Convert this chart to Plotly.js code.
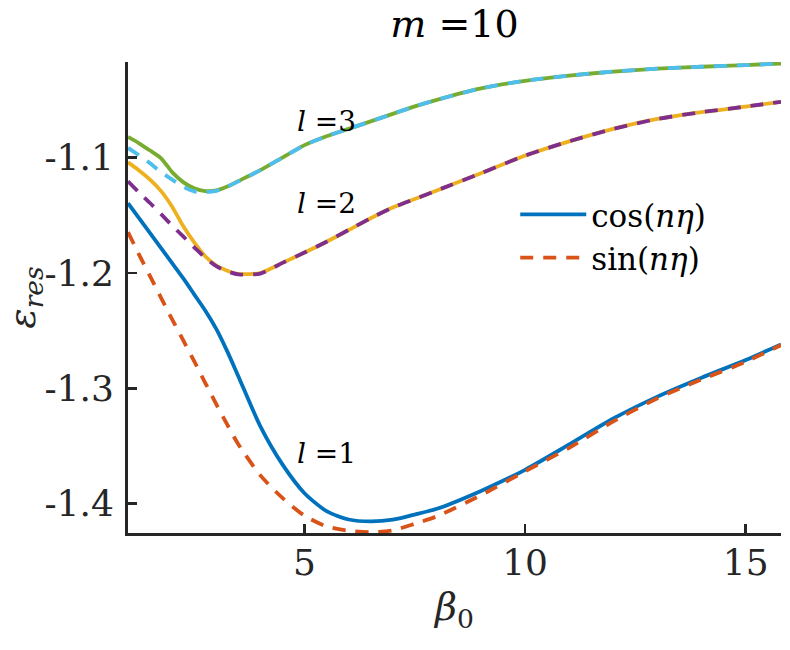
<!DOCTYPE html>
<html>
<head>
<meta charset="utf-8">
<script src="https://cdn.plot.ly/plotly-3.0.1.min.js"></script>
<style>
  html, body { margin: 0; padding: 0; background: #ffffff; }
  #chart { width: 790px; height: 650px; }
</style>
</head>
<body>
<div id="chart"></div>
<script>
// Resonance eigenvalue epsilon_res versus beta_0 for m = 10, modes l = 1, 2, 3
const beta0 = [1, 1.25, 1.5, 1.75, 2, 2.25, 2.5, 2.75, 3, 3.25, 3.5, 4, 4.5, 5, 5.5, 6, 6.5, 7, 7.5, 8, 9, 10, 11, 12, 13, 14, 15, 15.8];

// l = 1
const cosL1 = [-1.1395, -1.1525, -1.1655, -1.1785, -1.1915, -1.2045, -1.2185, -1.2325, -1.2485, -1.268, -1.2895, -1.333, -1.366, -1.391, -1.4065, -1.4138, -1.4155, -1.414, -1.4095, -1.4045, -1.389, -1.3707, -1.3487, -1.3262, -1.3072, -1.2908, -1.2755, -1.262];
const sinL1 = [-1.1646, -1.184, -1.2027, -1.2215, -1.2402, -1.2583, -1.2765, -1.2952, -1.3137, -1.3315, -1.3485, -1.3755, -1.3951, -1.4105, -1.4198, -1.4235, -1.4248, -1.4232, -1.4175, -1.411, -1.3927, -1.372, -1.3516, -1.3287, -1.3086, -1.2923, -1.277, -1.2625];

// l = 2
const cosL2 = [-1.104, -1.111, -1.119, -1.129, -1.1425, -1.1593, -1.1735, -1.1855, -1.1935, -1.198, -1.2008, -1.2, -1.1912, -1.1823, -1.1729, -1.1627, -1.1525, -1.1432, -1.1358, -1.1284, -1.1135, -1.0982, -1.0858, -1.075, -1.0664, -1.0605, -1.0557, -1.0515];
const sinL2 = [-1.1205, -1.1302, -1.1393, -1.149, -1.1588, -1.1683, -1.1777, -1.1868, -1.1941, -1.1985, -1.2012, -1.2005, -1.1912, -1.1823, -1.1729, -1.1627, -1.1525, -1.1432, -1.1358, -1.1284, -1.1135, -1.0982, -1.0858, -1.075, -1.0664, -1.0605, -1.0557, -1.0515];

// l = 3
const cosL3 = [-1.082, -1.0875, -1.0938, -1.1005, -1.1125, -1.1212, -1.1265, -1.1289, -1.1284, -1.125, -1.1203, -1.1108, -1.0999, -1.0891, -1.0814, -1.075, -1.0685, -1.062, -1.0555, -1.0498, -1.0399, -1.0333, -1.0288, -1.0253, -1.0228, -1.0211, -1.0197, -1.0183];
const sinL3 = [-1.0915, -1.098, -1.1048, -1.1125, -1.119, -1.1252, -1.1292, -1.1298, -1.1287, -1.1252, -1.1205, -1.1108, -1.0999, -1.0891, -1.0814, -1.075, -1.0685, -1.062, -1.0555, -1.0498, -1.0399, -1.0333, -1.0288, -1.0253, -1.0228, -1.0211, -1.0197, -1.0183];

const xTicks = [5, 10, 15];
const xTickText = ['5', '10', '15'];
const yTicks = [-1.4, -1.3, -1.2, -1.1];
const yTickText = ['-1.4', '-1.3', '-1.2', '-1.1'];

const modeLabels = ['<i>l</i> =1', '<i>l</i> =2', '<i>l</i> =3'];
const modeLabelX = [4.79, 4.79, 4.79];
const modeLabelY = [-1.3563, -1.1395, -1.069];

const FONT = 'DejaVu Serif, serif';
const INK = '#262626';
const DASH = '13px,10px';
const LW = 3.8;

const series = [
  { y: cosL1, color: '#0072BD', dash: 'solid', name: 'cos(<i>nη</i>)', legend: true },
  { y: sinL1, color: '#D95319', dash: DASH, name: 'sin(<i>nη</i>)', legend: true },
  { y: cosL2, color: '#EDB120', dash: 'solid', name: 'cos l=2', legend: false },
  { y: sinL2, color: '#7E2F8E', dash: DASH, name: 'sin l=2', legend: false },
  { y: cosL3, color: '#77AC30', dash: 'solid', name: 'cos l=3', legend: false },
  { y: sinL3, color: '#4DBEEE', dash: DASH, name: 'sin l=3', legend: false }
];

const traces = series.map(s => ({
  type: 'scatter',
  mode: 'lines',
  x: beta0,
  y: s.y,
  name: s.name,
  showlegend: s.legend,
  line: { color: s.color, width: LW, dash: s.dash, shape: 'spline', smoothing: 0.7 },
  hoverinfo: 'skip'
}));

const annotations = modeLabels.map((t, i) => ({
  text: t,
  x: modeLabelX[i],
  y: modeLabelY[i],
  xref: 'x',
  yref: 'y',
  xanchor: 'left',
  yanchor: 'middle',
  showarrow: false,
  font: { family: FONT, size: 28, color: '#000000' }
}));

const layout = {
  width: 790,
  height: 650,
  margin: { l: 128, r: 9, t: 62, b: 117, pad: 0 },
  paper_bgcolor: '#ffffff',
  plot_bgcolor: '#ffffff',
  font: { family: FONT, color: INK },
  title: {
    text: '<i>m</i> =10',
    font: { family: FONT, size: 38, color: '#000000' },
    xref: 'paper',
    x: 0.5,
    xanchor: 'center',
    yref: 'container',
    y: 0.963,
    yanchor: 'middle'
  },
  xaxis: {
    range: [1, 15.8],
    tickvals: xTicks,
    ticktext: xTickText,
    ticks: 'inside',
    ticklen: 9,
    tickwidth: 2.5,
    tickcolor: INK,
    showline: true,
    linecolor: INK,
    linewidth: 3,
    showgrid: false,
    zeroline: false,
    tickfont: { family: FONT, size: 36, color: INK },
    ticklabelstandoff: -4,
    title: {
      text: '<i>β</i><sub>0</sub>',
      font: { family: FONT, size: 38, color: INK },
      standoff: 12
    }
  },
  yaxis: {
    range: [-1.4255, -1.017],
    tickvals: yTicks,
    ticktext: yTickText,
    ticks: 'inside',
    ticklen: 9,
    tickwidth: 2.5,
    tickcolor: INK,
    showline: true,
    linecolor: INK,
    linewidth: 3,
    showgrid: false,
    zeroline: false,
    tickfont: { family: FONT, size: 36, color: INK },
    ticklabelstandoff: 4,
    title: {
      text: '<i>ε</i><sub><i>res</i></sub>',
      font: { family: FONT, size: 38, color: INK },
      standoff: 8
    }
  },
  legend: {
    x: 0.593,
    y: 0.733,
    xanchor: 'left',
    yanchor: 'top',
    bgcolor: 'rgba(0,0,0,0)',
    borderwidth: 0,
    itemwidth: 66,
    font: { family: FONT, size: 31, color: '#000000' },
    tracegroupgap: 0
  },
  annotations: annotations,
  showlegend: true
};

Plotly.newPlot('chart', traces, layout, { staticPlot: true, displayModeBar: false });
</script>
</body>
</html>
